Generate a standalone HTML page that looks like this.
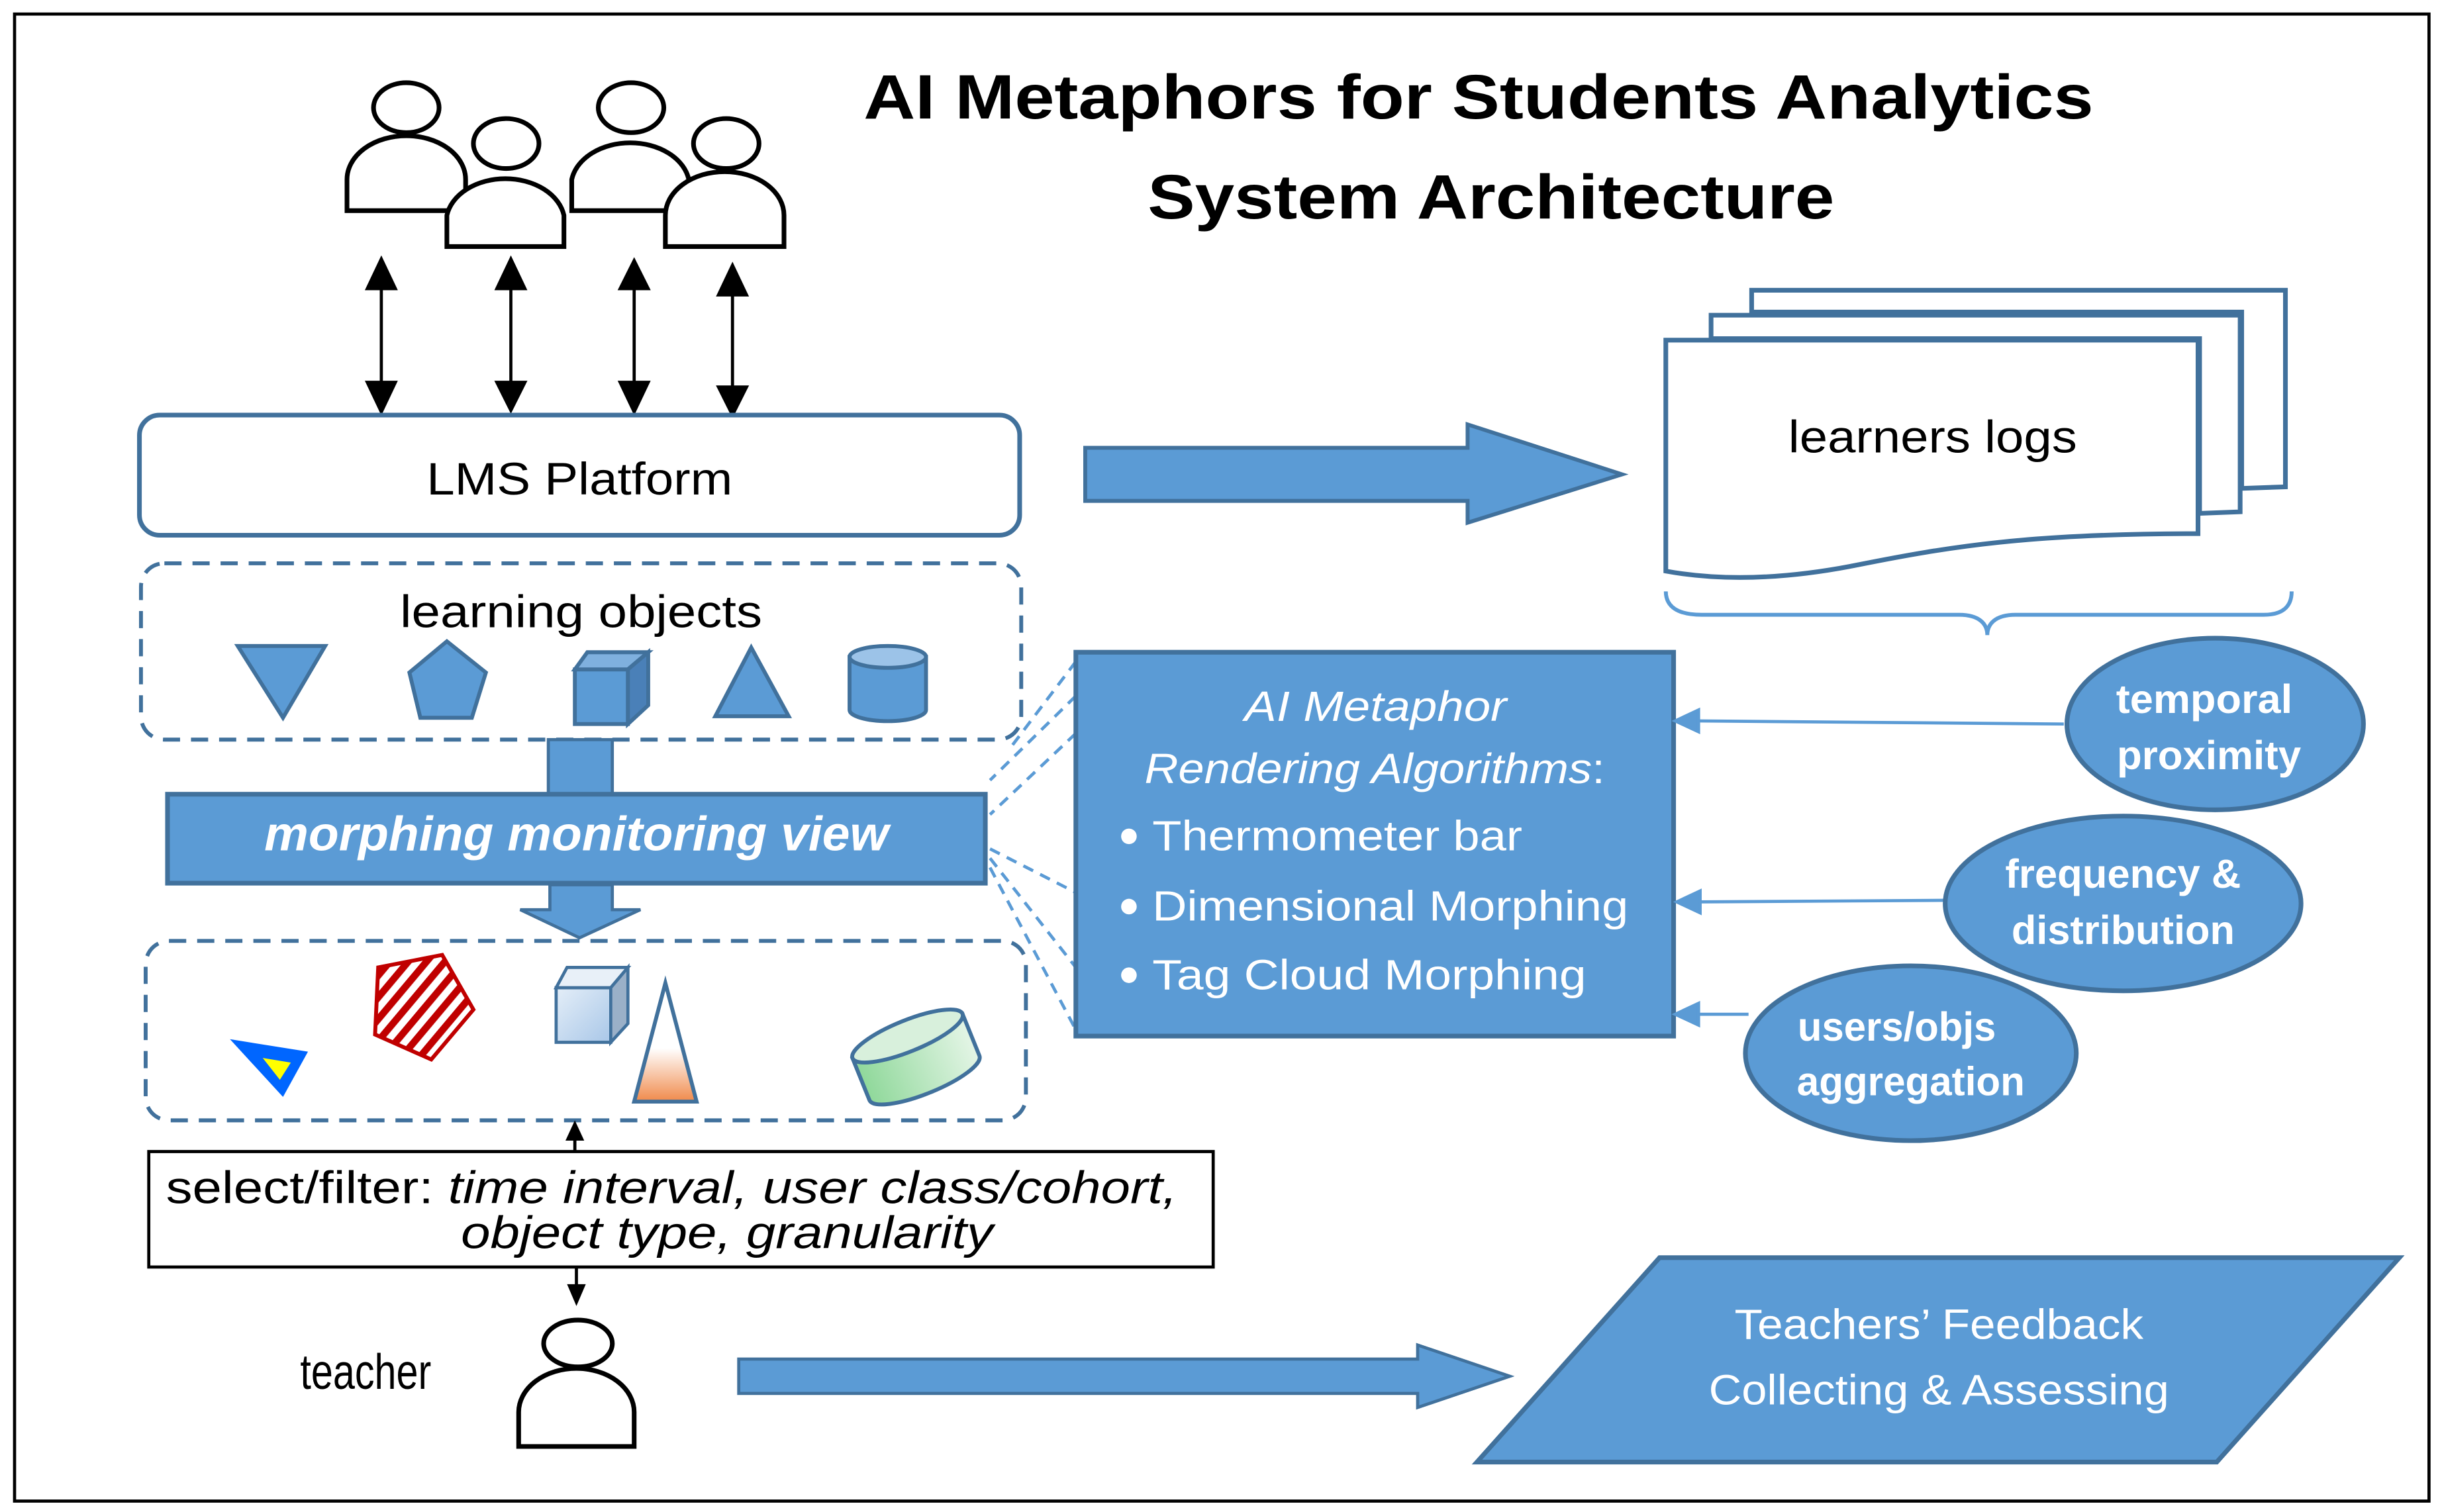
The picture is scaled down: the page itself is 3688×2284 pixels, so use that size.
<!DOCTYPE html>
<html><head><meta charset="utf-8"><style>
html,body{margin:0;padding:0;background:#fff;}
svg{display:block;}
text{font-family:"Liberation Sans",sans-serif;}
</style></head><body>
<svg width="3688" height="2284" viewBox="0 0 1564 969" xmlns="http://www.w3.org/2000/svg">
<defs>
<linearGradient id="gc" x1="0" y1="0" x2="1" y2="1"><stop offset="0" stop-color="#e4eef8"/><stop offset="1" stop-color="#a9c7e8"/></linearGradient>
<linearGradient id="go" x1="0" y1="0" x2="0" y2="1"><stop offset="0.55" stop-color="#fff"/><stop offset="1" stop-color="#f08a4b"/></linearGradient>
<linearGradient id="gg" x1="0" y1="0" x2="1" y2="0"><stop offset="0" stop-color="#8fd89a"/><stop offset="1" stop-color="#e4f5e6"/></linearGradient>
<pattern id="hatch" width="9" height="9" patternUnits="userSpaceOnUse" patternTransform="rotate(40)"><rect width="9" height="9" fill="#fff"/><rect width="4.5" height="9" fill="#c00000"/></pattern>
</defs>
<rect x="9" y="9" width="1547" height="953" fill="#fff" stroke="#000" stroke-width="2"/>
<text x="947" y="76" font-size="40" font-weight="bold" text-anchor="middle" textLength="788" lengthAdjust="spacingAndGlyphs">AI Metaphors for Students Analytics</text>
<text x="955" y="140" font-size="40" font-weight="bold" text-anchor="middle" textLength="440" lengthAdjust="spacingAndGlyphs">System Architecture</text>

<g fill="#fff" stroke="#000" stroke-width="3">
<ellipse cx="260" cy="69" rx="21" ry="16"/>
<path d="M222,135 V115 A38,28 0 0 1 298,115 V135 Z"/>
<ellipse cx="324" cy="92" rx="21" ry="16"/>
<path d="M286,158 V138 A38,28 0 0 1 361,138 V158 Z"/>
<ellipse cx="404" cy="69" rx="21" ry="16"/>
<path d="M366,135 V115 A38,28 0 0 1 441,115 V135 Z"/>
<ellipse cx="465" cy="92" rx="21" ry="16"/>
<path d="M426,158 V138 A38,28 0 0 1 502,138 V158 Z"/>
</g>
<g stroke="#000" stroke-width="2" fill="#000">
<line x1="244" y1="180" x2="244" y2="250"/><path d="M235,185 L244,166 L253,185Z M235,245 L244,264 L253,245Z"/>
<line x1="327" y1="180" x2="327" y2="250"/><path d="M318,185 L327,166 L336,185Z M318,245 L327,263 L336,245Z"/>
<line x1="406" y1="180" x2="406" y2="250"/><path d="M397,185 L406,167 L415,185Z M397,245 L406,264 L415,245Z"/>
<line x1="469" y1="184" x2="469" y2="252"/><path d="M460,189 L469,170 L478,189Z M460,248 L469,266 L478,248Z"/>
</g>

<rect x="89" y="266" width="564" height="77" rx="13" fill="#fff" stroke="#41719c" stroke-width="3"/>
<text x="371" y="317" font-size="29" text-anchor="middle" textLength="196" lengthAdjust="spacingAndGlyphs">LMS Platform</text>

<rect x="90" y="361" width="564" height="113" rx="15" fill="none" stroke="#41719c" stroke-width="2.5" stroke-dasharray="11,7"/>
<text x="372" y="402" font-size="29" text-anchor="middle" textLength="232" lengthAdjust="spacingAndGlyphs">learning objects</text>
<g fill="#5b9bd5" stroke="#41719c" stroke-width="2.5">
<path d="M152,414 L208,414 L181,460Z"/>
<path d="M286,411 L311,431 L302,460 L269,460 L262,431Z"/>
<path d="M368,429 L402,429 L402,464 L368,464Z"/>
<path d="M368,429 L376,418 L415,418 L402,429Z" fill="#7fb0de"/>
<path d="M402,429 L415,418 L415,452 L402,464Z" fill="#4a80b8"/>
<path d="M481,415 L505,459 L458,459Z"/>
<path d="M544,421 V455 A24,7 0 0 0 593,455 V421Z"/>
<ellipse cx="568.5" cy="421" rx="24.5" ry="7" fill="#9cc3e8"/>
</g>

<g fill="none" stroke="#5b9bd5" stroke-width="2" stroke-dasharray="7,5">
<line x1="689" y1="424" x2="648" y2="478"/>
<line x1="689" y1="446" x2="634" y2="500"/>
<line x1="689" y1="470" x2="634" y2="522"/>
<line x1="634" y1="544" x2="689" y2="572"/>
<line x1="634" y1="550" x2="689" y2="620"/>
<line x1="634" y1="556" x2="689" y2="660"/>
</g>

<rect x="351" y="474" width="41" height="36" fill="#5b9bd5" stroke="#41719c" stroke-width="2"/>
<rect x="107" y="509" width="524" height="57" fill="#5b9bd5" stroke="#41719c" stroke-width="3"/>
<text x="369" y="545" font-size="31" font-weight="bold" font-style="italic" fill="#fff" text-anchor="middle" textLength="400" lengthAdjust="spacingAndGlyphs">morphing monitoring view</text>
<path d="M352,567 L392,567 L392,583 L410,583 L371,601 L333,583 L352,583Z" fill="#5b9bd5" stroke="#41719c" stroke-width="2"/>

<rect x="93" y="603" width="564" height="115" rx="15" fill="none" stroke="#41719c" stroke-width="2.5" stroke-dasharray="11,7"/>
<path d="M147,666 L197,674 L181,703Z" fill="#0066ff"/>
<path d="M168,678 L186,681 L179,692Z" fill="#ffff00"/>
<path d="M242,620 L283,612 L303,647 L276,679 L240,663Z" fill="url(#hatch)" stroke="#c00000" stroke-width="2.5"/>
<path d="M356,633 L391,633 L391,668 L356,668Z" fill="url(#gc)" stroke="#41719c" stroke-width="2"/>
<path d="M356,633 L363,620 L402,620 L391,633Z" fill="#e8f0f8" stroke="#41719c" stroke-width="2"/>
<path d="M391,633 L402,620 L402,656 L391,668Z" fill="#9ab0c8" stroke="#41719c" stroke-width="2"/>
<path d="M426,630 L446,706 L406,706Z" fill="url(#go)" stroke="#41719c" stroke-width="2.5"/>
<g transform="rotate(-22 586 676)">
<path d="M548,663 V692 A38,10 0 0 0 624,692 V663Z" fill="url(#gg)" stroke="#41719c" stroke-width="2.5"/>
<ellipse cx="586" cy="663" rx="38" ry="10" fill="#d8f0dc" stroke="#41719c" stroke-width="2.5"/>
</g>

<line x1="368" y1="738" x2="368" y2="728" stroke="#000" stroke-width="2"/>
<path d="M362,731 L368,718 L374,731Z" fill="#000"/>
<rect x="95" y="738" width="682" height="74" fill="#fff" stroke="#000" stroke-width="2"/>
<text x="106" y="771" font-size="29" textLength="648" lengthAdjust="spacingAndGlyphs">select/filter: <tspan font-style="italic">time interval, user class/cohort,</tspan></text>
<text x="295" y="800" font-size="29" font-style="italic" textLength="341" lengthAdjust="spacingAndGlyphs">object type, granularity</text>
<line x1="369" y1="812" x2="369" y2="825" stroke="#000" stroke-width="2"/>
<path d="M363,823 L369,837 L375,823Z" fill="#000"/>

<text x="192" y="890" font-size="32" textLength="84" lengthAdjust="spacingAndGlyphs">teacher</text>
<ellipse cx="370" cy="861" rx="22" ry="15" fill="#fff" stroke="#000" stroke-width="3"/>
<path d="M332,927 V905 A37,28 0 0 1 406,905 V927 Z" fill="#fff" stroke="#000" stroke-width="3"/>

<path d="M473,871 L908,871 L908,862 L967,882 L908,902 L908,893 L473,893Z" fill="#5b9bd5" stroke="#41719c" stroke-width="2"/>
<path d="M1063,806 L1537,806 L1420,937 L946,937Z" fill="#5b9bd5" stroke="#41719c" stroke-width="3"/>
<text x="1242" y="858" font-size="27" fill="#fff" text-anchor="middle" textLength="262" lengthAdjust="spacingAndGlyphs">Teachers’ Feedback</text>
<text x="1242" y="900" font-size="27" fill="#fff" text-anchor="middle" textLength="295" lengthAdjust="spacingAndGlyphs">Collecting &amp; Assessing</text>

<path d="M695,287 L940,287 L940,272 L1039,304 L940,335 L940,321 L695,321Z" fill="#5b9bd5" stroke="#41719c" stroke-width="2.5"/>

<g fill="#fff" stroke="#41719c" stroke-width="3">
<path d="M1122,186 L1464,186 L1464,312 L1436,313 L1436,200 L1122,200Z"/>
<path d="M1096,202 L1435,202 L1435,328 L1409,329 L1409,217 L1096,217Z"/>
<path d="M1067,218 L1408,218 L1408,342 C1300,342 1250,350 1190,362 C1140,372 1100,372 1067,366Z"/>
</g>
<text x="1238" y="290" font-size="29" text-anchor="middle" textLength="185" lengthAdjust="spacingAndGlyphs">learners logs</text>
<path d="M1067,379 C1067,389 1075,394 1090,394 L1255,394 C1268,394 1273,400 1273,407 C1273,400 1278,394 1291,394 L1450,394 C1462,394 1468,389 1468,379" fill="none" stroke="#5b9bd5" stroke-width="2.5"/>

<rect x="689" y="418" width="383" height="246" fill="#5b9bd5" stroke="#41719c" stroke-width="3"/>
<g fill="#fff" font-size="27">
<text x="881" y="462" font-style="italic" text-anchor="middle" textLength="168" lengthAdjust="spacingAndGlyphs">AI Metaphor</text>
<text x="733" y="502" textLength="295" lengthAdjust="spacingAndGlyphs"><tspan font-style="italic">Rendering Algorithms</tspan>:</text>
<circle cx="723" cy="536" r="5"/><text x="738" y="545" textLength="237" lengthAdjust="spacingAndGlyphs">Thermometer bar</text>
<circle cx="723" cy="581" r="5"/><text x="738" y="590" textLength="305" lengthAdjust="spacingAndGlyphs">Dimensional Morphing</text>
<circle cx="723" cy="625" r="5"/><text x="738" y="634" textLength="278" lengthAdjust="spacingAndGlyphs">Tag Cloud  Morphing</text>
</g>

<g stroke="#5b9bd5" stroke-width="2" fill="#5b9bd5">
<line x1="1088" y1="462" x2="1322" y2="464"/><path d="M1073,462 L1088,455 L1088,469Z"/>
<line x1="1088" y1="578" x2="1246" y2="577"/><path d="M1074,578 L1089,571 L1089,585Z"/>
<line x1="1088" y1="650" x2="1120" y2="650"/><path d="M1073,650 L1088,643 L1088,657Z"/>
</g>
<g fill="#5b9bd5" stroke="#41719c" stroke-width="3">
<ellipse cx="1419" cy="464" rx="95" ry="55"/>
<ellipse cx="1360" cy="579" rx="114" ry="56"/>
<ellipse cx="1224" cy="675" rx="106" ry="56"/>
</g>
<g fill="#fff" font-size="26" font-weight="bold" text-anchor="middle">
<text x="1412" y="457" textLength="113" lengthAdjust="spacingAndGlyphs">temporal</text>
<text x="1415" y="493" textLength="118" lengthAdjust="spacingAndGlyphs">proximity</text>
<text x="1360" y="569" textLength="151" lengthAdjust="spacingAndGlyphs">frequency &amp;</text>
<text x="1360" y="605" textLength="143" lengthAdjust="spacingAndGlyphs">distribution</text>
<text x="1215" y="667" textLength="127" lengthAdjust="spacingAndGlyphs">users/objs</text>
<text x="1224" y="702" textLength="146" lengthAdjust="spacingAndGlyphs">aggregation</text>
</g>
</svg>
</body></html>
